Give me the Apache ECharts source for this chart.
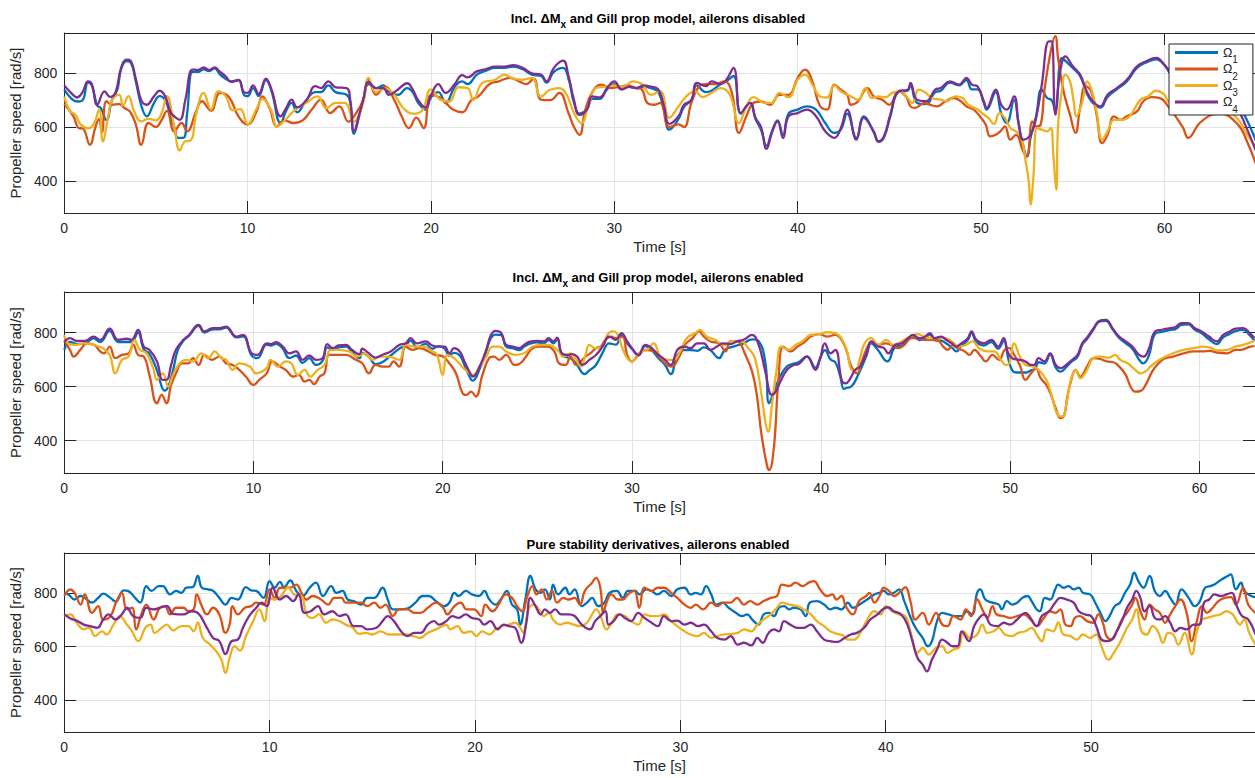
<!DOCTYPE html>
<html><head><meta charset="utf-8">
<script src="https://cdn.jsdelivr.net/npm/echarts@6/dist/echarts.min.js"></script>
<style>html,body{margin:0;padding:0;background:#fff}#c{width:1255px;height:778px}</style>
</head><body><div id="c"></div>
<script>
// ---------- data ----------
const seriesNames = ['Ω1', 'Ω2', 'Ω3', 'Ω4'];
const titleTexts = [
  'Incl. ΔM{x|x} and Gill prop model, ailerons disabled',
  'Incl. ΔM{x|x} and Gill prop model, ailerons enabled',
  'Pure stability derivatives, ailerons enabled'
];
const xTicks = [0, 10, 20, 30, 40, 50, 60];
const yTicks = [400, 600, 800];
const xMax = [64.94, 62.93, 57.98];
const yMin = 280, yMax = 950;

// Subplot 1: ailerons disabled
const p1_w1 = [[0,739],[0.4,705],[0.7,695],[1.0,700],[1.3,765],[1.5,755],[1.8,680],[2.0,670],[2.3,625],[2.6,700],[2.9,740],[3.1,815],[3.4,845],[3.6,842],[3.9,770],[4.2,680],[4.5,640],[4.9,690],[5.2,715],[5.5,700],[5.8,640],[6.0,600],[6.2,560],[6.5,560],[6.7,650],[7.0,805],[7.3,805],[7.6,815],[7.9,808],[8.2,818],[8.5,795],[8.8,780],[9.1,770],[9.5,775],[9.8,720],[10.0,715],[10.3,745],[10.6,715],[11.0,775],[11.3,735],[11.8,615],[12.1,660],[12.4,690],[12.7,655],[13.2,700],[13.7,730],[14.0,730],[14.4,755],[14.8,730],[15.4,720],[15.6,690],[15.8,575],[16.1,645],[16.3,700],[16.6,760],[17.0,745],[17.4,755],[17.7,730],[18.2,720],[18.7,745],[19.0,730],[19.3,690],[19.7,665],[20.0,710],[20.4,730],[20.8,690],[21.3,750],[21.7,770],[22.0,760],[22.5,795],[23.0,810],[23.5,820],[24.0,820],[24.5,825],[25.0,815],[25.5,795],[26.0,790],[26.3,765],[26.7,805],[27.2,820],[27.5,780],[27.8,690],[28.1,650],[28.5,665],[28.8,705],[29.2,705],[29.6,740],[30.0,760],[30.4,740],[30.8,750],[31.2,745],[31.6,750],[32.0,745],[32.4,730],[32.7,665],[33.0,590],[33.5,630],[33.8,675],[34.2,700],[34.5,755],[35.0,730],[35.3,735],[35.8,760],[36.1,770],[36.5,790],[36.9,650],[37.4,690],[37.7,630],[38.0,590],[38.3,530],[38.6,585],[38.9,625],[39.2,570],[39.5,650],[40.0,665],[40.5,677],[41.0,665],[41.5,615],[42.0,578],[42.35,590],[42.7,650],[43.2,560],[43.6,640],[44.15,580],[44.4,545],[44.7,560],[45.05,640],[45.5,730],[46.0,735],[46.15,755],[46.5,690],[47.0,685],[47.5,730],[47.8,735],[48.3,765],[48.8,755],[49.2,775],[49.5,740],[49.8,740],[50.15,690],[50.3,665],[50.8,730],[51.1,650],[51.4,615],[51.8,700],[52.05,610],[52.3,530],[52.5,490],[52.7,560],[53.0,640],[53.3,740],[53.6,708],[53.85,700],[54.05,660],[54.4,857],[54.7,840],[55.0,820],[55.4,790],[55.8,720],[56.1,690],[56.5,672],[56.9,712],[57.4,740],[57.95,770],[58.5,820],[59.0,840],[59.55,852],[60.0,830],[60.5,780],[61,760],[62,730],[63,700],[64,680],[64.4,640],[65,547]];
const p1_w2 = [[0,686],[0.5,640],[0.8,596],[1.0,595],[1.4,534],[1.7,600],[1.9,630],[2.05,580],[2.3,696],[2.6,683],[3.0,685],[3.3,670],[3.6,656],[3.9,610],[4.2,534],[4.6,615],[5.0,600],[5.3,625],[5.6,660],[6.0,584],[6.4,615],[6.7,584],[7.2,660],[7.5,696],[8.0,661],[8.5,727],[9.0,710],[9.5,640],[10.0,609],[10.5,660],[10.8,714],[11.2,670],[11.6,602],[12.0,625],[12.5,615],[13.0,625],[13.5,665],[14.0,702],[14.5,652],[15.0,677],[15.5,620],[15.9,650],[16.3,700],[16.6,776],[17.0,720],[17.5,750],[18.0,700],[18.4,640],[18.8,596],[19.2,635],[19.6,596],[20.0,720],[20.5,710],[20.8,690],[21.2,665],[21.7,655],[22.2,700],[22.6,715],[23.2,760],[23.7,770],[24.3,783],[24.8,770],[25.2,760],[25.6,780],[26.0,702],[26.5,700],[27.0,727],[27.5,652],[27.8,600],[28.1,571],[28.4,660],[28.8,730],[29.3,758],[29.8,745],[30.3,750],[30.7,755],[31.2,745],[31.5,740],[31.8,690],[32.2,683],[32.5,690],[33.0,600],[33.5,610],[33.8,600],[34.2,690],[34.6,750],[35.0,760],[35.5,760],[36.0,770],[36.4,730],[36.8,578],[37.2,640],[37.6,690],[38.0,695],[38.5,683],[39.0,720],[39.5,720],[40.0,783],[40.4,814],[40.8,770],[41.2,680],[41.6,665],[42.0,758],[42.35,739],[42.7,720],[42.9,683],[43.3,696],[43.8,745],[44.15,714],[44.6,702],[45.0,683],[45.5,733],[45.9,714],[46.15,677],[46.4,671],[46.9,689],[47.2,683],[47.6,677],[48.0,693],[48.5,708],[48.9,696],[49.2,677],[49.6,665],[50.0,634],[50.25,609],[50.5,565],[50.8,571],[51.05,584],[51.3,602],[51.6,553],[51.9,571],[52.3,509],[52.5,491],[52.8,621],[53.0,602],[53.25,609],[53.45,733],[53.8,882],[54.05,938],[54.2,857],[54.5,733],[54.85,646],[55.15,578],[55.4,671],[55.7,752],[56.0,733],[56.3,646],[56.6,540],[56.9,571],[57.25,640],[57.6,627],[57.95,640],[58.5,658],[58.85,696],[59.3,711],[59.75,708],[60.2,677],[61,600],[61.3,560],[62,620],[63,650],[64,610],[64.5,547],[65,460]];
const p1_w3 = [[0,714],[0.3,660],[0.6,646],[0.9,609],[1.3,595],[1.6,610],[1.9,665],[2.1,547],[2.4,640],[2.6,700],[3.0,720],[3.2,680],[3.5,715],[3.8,660],[4.2,621],[4.6,630],[5.0,625],[5.3,650],[5.6,715],[6.0,600],[6.3,513],[6.6,547],[6.9,550],[7.2,650],[7.6,727],[8.0,665],[8.4,733],[8.8,715],[9.2,662],[9.6,667],[10.0,611],[10.5,670],[10.8,705],[11.3,660],[11.6,602],[12.1,630],[12.6,665],[13.2,690],[13.8,714],[14.3,670],[14.8,690],[15.3,690],[15.8,620],[16.3,690],[16.6,783],[17.0,730],[17.5,745],[18.0,720],[18.5,670],[19.0,650],[19.5,660],[20.0,740],[20.5,702],[21.0,695],[21.5,748],[22.0,745],[22.3,700],[22.8,764],[23.5,776],[24.0,795],[24.5,780],[25.0,776],[25.5,783],[26.0,714],[26.5,739],[27.0,745],[27.4,720],[27.8,652],[28.2,615],[28.6,683],[29.0,745],[29.5,750],[30.0,755],[30.5,750],[31.0,770],[31.5,760],[32.0,720],[32.5,733],[33.0,634],[33.5,677],[34.0,720],[34.4,733],[34.8,711],[35.3,727],[35.8,745],[36.3,720],[36.8,615],[37.2,677],[37.6,711],[38.2,690],[38.6,690],[39.0,727],[39.5,711],[40.0,776],[40.4,795],[40.8,758],[41.2,715],[41.6,710],[42.0,755],[42.35,733],[42.9,714],[43.3,702],[43.7,745],[44.05,708],[44.4,714],[44.8,711],[45.15,727],[45.6,733],[46.0,708],[46.25,689],[46.6,739],[47.0,727],[47.3,708],[47.8,702],[48.1,696],[48.6,714],[49.0,708],[49.3,683],[49.8,665],[50.15,646],[50.4,634],[50.7,611],[51.0,652],[51.3,634],[51.6,596],[51.9,584],[52.2,559],[52.4,485],[52.6,398],[52.7,311],[52.85,410],[53.05,596],[53.3,590],[53.6,584],[53.8,596],[53.95,485],[54.1,366],[54.2,609],[54.4,733],[54.6,795],[54.85,770],[55.05,696],[55.2,640],[55.5,689],[55.8,770],[56.05,733],[56.3,658],[56.6,553],[56.9,584],[57.25,627],[57.7,627],[58.1,640],[58.7,702],[59.1,714],[59.55,735],[60.0,720],[60.3,689],[61,680],[62,690],[63,680],[64,630],[64.4,584],[65,522]];
const p1_w4 = [[0,755],[0.4,725],[0.7,710],[1.0,730],[1.3,770],[1.5,760],[1.8,683],[2.2,733],[2.5,712],[2.8,730],[3.1,820],[3.4,851],[3.6,848],[3.9,780],[4.2,700],[4.5,683],[4.9,715],[5.2,735],[5.5,715],[5.8,655],[6.0,640],[6.3,627],[6.6,700],[7.0,814],[7.3,812],[7.6,822],[7.9,812],[8.2,822],[8.5,805],[8.8,789],[9.1,768],[9.5,775],[9.8,730],[10.0,727],[10.3,755],[10.6,723],[11.0,780],[11.3,740],[11.8,640],[12.1,670],[12.4,702],[12.7,673],[13.2,700],[13.7,752],[14.0,745],[14.4,770],[14.8,748],[15.4,745],[15.6,700],[15.8,584],[16.1,650],[16.3,700],[16.6,768],[17.0,745],[17.4,745],[17.7,720],[18.2,740],[18.7,763],[19.0,740],[19.3,700],[19.7,673],[20.0,718],[20.4,760],[20.8,727],[21.3,760],[21.7,793],[22.0,785],[22.5,807],[23.0,816],[23.5,825],[24.0,825],[24.5,830],[25.0,820],[25.5,800],[26.0,795],[26.3,770],[26.7,820],[27.2,847],[27.5,790],[27.8,700],[28.1,645],[28.5,665],[28.8,714],[29.2,710],[29.6,745],[30.0,770],[30.4,740],[30.8,750],[31.2,745],[31.6,755],[32.0,750],[32.4,740],[32.7,680],[33.0,612],[33.5,640],[33.8,683],[34.2,700],[34.5,764],[35.0,752],[35.3,770],[35.8,760],[36.1,775],[36.5,820],[36.9,652],[37.4,690],[37.7,634],[38.0,600],[38.3,519],[38.6,580],[38.9,621],[39.2,559],[39.5,640],[40.0,652],[40.5,665],[41.0,640],[41.5,584],[42.0,560],[42.35,596],[42.7,665],[43.2,553],[43.6,634],[44.15,584],[44.4,547],[44.7,565],[45.05,646],[45.5,733],[46.0,739],[46.15,764],[46.5,702],[47.0,696],[47.5,739],[47.8,745],[48.3,770],[48.8,758],[49.2,783],[49.5,758],[49.8,752],[50.15,696],[50.3,671],[50.8,739],[51.1,683],[51.4,665],[51.8,714],[52.05,615],[52.3,553],[52.7,571],[53.0,634],[53.3,752],[53.7,919],[53.85,919],[54.05,646],[54.3,800],[54.6,863],[55.0,826],[55.4,795],[55.8,727],[56.1,696],[56.5,677],[56.9,720],[57.4,745],[57.95,776],[58.5,826],[59.0,845],[59.55,857],[60.0,832],[60.5,789],[61,770],[62,740],[63,700],[64,660],[64.4,609],[65,509]];

// Subplot 2: ailerons enabled
const p2_w1 = [[0,736],[0.3,765],[0.67,758],[1.1,760],[1.55,778],[1.9,765],[2.4,805],[2.85,765],[3.3,765],[3.55,765],[3.9,800],[4.2,738],[4.5,722],[4.9,660],[5.15,600],[5.3,585],[5.5,600],[5.75,660],[6.0,735],[6.3,770],[6.6,788],[7.1,825],[7.4,800],[7.85,812],[8.2,812],[8.55,818],[9.1,782],[9.45,786],[9.9,715],[10.2,705],[10.7,755],[10.9,752],[11.2,758],[11.55,740],[11.9,705],[12.25,715],[12.6,688],[12.95,705],[13.3,680],[13.65,695],[13.9,745],[14.2,735],[14.5,745],[14.9,748],[15.2,728],[15.6,705],[15.75,725],[16.1,710],[16.45,683],[16.8,690],[17.25,715],[17.7,740],[18.05,752],[18.3,770],[18.65,745],[19.1,758],[19.45,740],[19.8,750],[20.1,740],[20.35,715],[20.6,725],[20.9,715],[21.15,680],[21.5,625],[21.6,622],[21.95,665],[22.3,730],[22.55,780],[22.8,792],[23.1,790],[23.35,748],[23.7,742],[24.05,735],[24.3,748],[24.65,760],[25.0,764],[25.35,760],[25.6,772],[25.85,760],[26.05,775],[26.3,715],[26.6,708],[26.85,700],[27.1,680],[27.5,646],[27.75,660],[28.1,680],[28.45,725],[28.8,760],[29.15,755],[29.45,790],[29.75,760],[30.0,740],[30.35,715],[30.7,750],[31.05,735],[31.4,705],[31.75,680],[32.05,646],[32.4,715],[32.75,735],[33.1,735],[33.45,732],[33.8,745],[34.15,735],[34.6,705],[34.9,735],[35.2,745],[35.55,752],[35.9,760],[36.35,775],[36.7,768],[37.05,690],[37.25,538],[37.5,580],[37.85,640],[38.2,675],[38.55,685],[38.8,690],[39.25,712],[39.7,670],[39.95,705],[40.2,735],[40.5,700],[40.75,690],[41.0,640],[41.2,591],[41.3,594],[41.6,600],[42.0,650],[42.4,715],[42.65,760],[43.0,735],[43.5,693],[43.9,745],[44.25,752],[44.6,772],[44.85,785],[45.2,772],[45.5,778],[45.75,792],[46.0,772],[46.35,770],[46.6,760],[46.9,745],[47.15,730],[47.4,750],[47.75,772],[47.95,798],[48.2,765],[48.6,752],[49.0,765],[49.35,740],[49.65,770],[49.9,700],[50.1,660],[50.3,652],[50.8,652],[51.1,660],[51.3,665],[51.5,690],[51.8,685],[52.1,718],[52.4,670],[52.65,655],[52.95,672],[53.2,690],[53.55,710],[53.8,755],[54.05,776],[54.4,812],[54.7,840],[55.05,843],[55.4,812],[55.75,780],[56.1,760],[56.45,740],[56.8,700],[57.0,686],[57.3,710],[57.65,795],[58.0,802],[58.45,810],[58.7,812],[59.05,828],[59.4,830],[59.75,810],[60.1,798],[60.5,775],[60.9,757],[61.25,782],[61.6,795],[61.9,805],[62.3,810],[62.65,790],[62.9,770]];
const p2_w2 = [[0,770],[0.3,736],[0.5,711],[0.85,736],[1.2,760],[1.6,754],[1.9,730],[2.1,723],[2.4,748],[2.7,705],[3.05,717],[3.4,723],[3.65,754],[3.9,717],[4.2,711],[4.5,643],[4.9,538],[5.15,569],[5.4,538],[5.65,606],[5.95,656],[6.2,686],[6.55,686],[6.8,705],[7.1,680],[7.4,717],[7.8,699],[8.2,711],[8.55,686],[8.9,680],[9.25,662],[9.6,637],[10.0,606],[10.3,625],[10.7,649],[11.0,693],[11.4,674],[11.7,662],[12.1,637],[12.4,643],[12.7,619],[12.95,625],[13.2,609],[13.5,637],[13.75,649],[14.0,717],[14.35,717],[14.9,717],[15.4,699],[15.75,686],[16.1,649],[16.45,680],[16.8,674],[17.15,674],[17.4,693],[17.7,674],[18.05,748],[18.4,736],[18.8,742],[19.25,730],[19.6,717],[20.0,712],[20.35,686],[20.7,649],[21.05,575],[21.25,569],[21.5,581],[21.75,563],[22.1,643],[22.45,705],[22.7,711],[23.0,699],[23.35,717],[23.8,680],[24.1,686],[24.4,711],[24.75,742],[25.1,748],[25.55,748],[25.9,730],[26.15,686],[26.5,680],[26.75,711],[27.05,680],[27.3,693],[27.55,711],[27.8,723],[28.1,742],[28.35,748],[28.6,773],[28.9,785],[29.15,779],[29.5,785],[29.75,717],[30.0,693],[30.35,717],[30.7,736],[31.15,730],[31.5,705],[31.85,680],[32.1,674],[32.5,711],[32.8,754],[33.2,779],[33.55,804],[33.8,785],[34.15,767],[34.6,760],[34.95,730],[35.2,767],[35.55,767],[36.0,717],[36.35,656],[36.6,569],[36.85,421],[37.15,304],[37.25,291],[37.5,372],[37.75,631],[38.0,748],[38.4,730],[38.75,748],[39.1,764],[39.45,785],[39.9,794],[40.3,785],[40.75,791],[41.1,770],[41.35,730],[41.6,674],[41.9,649],[42.15,693],[42.5,754],[42.75,767],[43.0,754],[43.4,760],[43.7,754],[44.05,742],[44.4,754],[44.75,779],[45.1,779],[45.45,773],[45.8,773],[46.2,769],[46.45,748],[46.7,736],[46.95,754],[47.2,742],[47.6,730],[47.85,717],[48.1,736],[48.45,711],[48.7,693],[49.05,717],[49.4,699],[49.7,736],[49.95,742],[50.2,717],[50.5,680],[50.8,625],[51.1,649],[51.35,668],[51.6,631],[51.9,606],[52.15,569],[52.4,520],[52.65,483],[52.85,495],[53.0,557],[53.2,619],[53.45,662],[53.7,637],[54.05,674],[54.4,705],[54.75,702],[55.1,693],[55.45,690],[55.75,674],[56.1,643],[56.35,600],[56.6,581],[56.9,584],[57.15,606],[57.5,656],[57.75,680],[58.1,702],[58.6,711],[59.15,723],[59.7,730],[60.2,730],[60.55,732],[60.9,726],[61.45,723],[61.9,736],[62.2,736],[62.6,746],[62.9,751]];
const p2_w3 = [[0,791],[0.2,760],[0.6,754],[1.0,760],[1.55,754],[2.05,742],[2.4,717],[2.7,649],[3.05,699],[3.4,711],[3.7,773],[4.0,736],[4.35,723],[4.7,668],[4.9,625],[5.2,649],[5.5,600],[5.75,643],[6.1,686],[6.45,699],[6.8,693],[7.25,723],[7.6,705],[7.95,730],[8.3,705],[8.55,699],[8.9,662],[9.25,686],[9.8,674],[10.15,649],[10.7,668],[10.9,699],[11.3,674],[11.7,693],[12.0,686],[12.35,643],[12.7,662],[13.0,637],[13.4,662],[13.75,680],[14.1,736],[14.5,736],[15.05,730],[15.5,711],[15.85,723],[16.3,699],[16.65,711],[17.15,711],[17.7,699],[18.05,754],[18.55,748],[19.0,748],[19.45,730],[19.7,717],[20.0,643],[20.25,717],[20.6,705],[20.95,680],[21.2,662],[21.6,643],[21.95,674],[22.3,711],[22.65,748],[23.0,748],[23.35,730],[23.85,717],[24.3,723],[24.75,748],[25.2,754],[25.6,754],[26.05,736],[26.4,711],[26.75,723],[27.05,699],[27.3,674],[27.55,717],[27.75,754],[28.1,742],[28.45,748],[28.7,791],[28.95,804],[29.2,798],[29.5,742],[29.75,705],[30.0,693],[30.35,723],[30.8,736],[31.15,760],[31.5,711],[31.85,699],[32.2,699],[32.55,730],[32.9,779],[33.35,798],[33.6,810],[33.95,785],[34.4,773],[34.85,754],[35.3,767],[35.75,769],[36.15,742],[36.5,705],[36.85,569],[37.05,470],[37.2,433],[37.4,532],[37.65,662],[37.9,748],[38.3,736],[38.65,754],[39.0,767],[39.45,791],[39.9,794],[40.3,801],[40.75,798],[41.1,775],[41.35,736],[41.6,662],[41.8,658],[42.05,705],[42.3,760],[42.65,779],[43.0,754],[43.45,773],[43.8,754],[44.25,767],[44.7,785],[45.1,794],[45.45,785],[45.8,779],[46.2,779],[46.55,779],[46.9,767],[47.3,748],[47.65,754],[48.0,767],[48.35,742],[48.8,730],[49.15,730],[49.5,699],[49.75,680],[49.95,686],[50.2,760],[50.5,711],[50.8,680],[51.2,674],[51.5,662],[51.9,625],[52.2,563],[52.5,495],[52.75,489],[52.95,532],[53.2,625],[53.45,662],[53.7,631],[54.05,662],[54.4,707],[54.75,711],[55.2,707],[55.55,717],[55.8,699],[56.2,686],[56.5,668],[56.9,649],[57.15,656],[57.4,674],[57.75,693],[58.2,711],[58.6,723],[59.15,736],[59.7,742],[60.2,748],[60.55,744],[60.9,734],[61.45,736],[61.9,748],[62.3,754],[62.9,769]];
const p2_w4 = [[0,764],[0.3,779],[0.67,769],[1.1,769],[1.55,785],[1.9,773],[2.4,814],[2.85,773],[3.3,777],[3.55,773],[3.9,810],[4.2,748],[4.5,736],[4.9,693],[5.2,625],[5.4,625],[5.65,680],[5.9,736],[6.3,773],[6.6,791],[7.1,828],[7.4,804],[7.85,816],[8.2,816],[8.55,822],[9.1,785],[9.45,791],[9.9,723],[10.2,717],[10.7,760],[10.9,757],[11.2,764],[11.55,748],[11.9,723],[12.25,730],[12.6,699],[12.95,715],[13.3,699],[13.65,705],[13.9,757],[14.2,742],[14.5,752],[14.9,754],[15.2,736],[15.6,720],[15.75,740],[16.1,723],[16.45,707],[16.8,717],[17.25,730],[17.7,754],[18.05,760],[18.3,779],[18.65,760],[19.1,767],[19.45,752],[19.8,748],[20.1,748],[20.35,723],[20.6,742],[20.9,730],[21.15,693],[21.5,643],[21.6,637],[21.95,674],[22.3,736],[22.55,791],[22.8,806],[23.1,798],[23.35,754],[23.7,748],[24.05,742],[24.3,754],[24.65,767],[25.0,769],[25.35,767],[25.6,779],[25.85,767],[26.05,781],[26.3,723],[26.6,717],[26.85,720],[27.1,711],[27.4,680],[27.75,699],[28.1,717],[28.45,748],[28.8,785],[29.15,773],[29.45,798],[29.75,767],[30.0,742],[30.35,717],[30.7,754],[31.05,742],[31.4,717],[31.75,699],[32.05,680],[32.4,736],[32.75,748],[33.1,742],[33.45,760],[33.8,760],[34.15,736],[34.5,748],[34.8,760],[35.2,757],[35.55,767],[35.9,773],[36.35,791],[36.7,754],[37.05,656],[37.4,569],[37.6,581],[37.85,619],[38.2,662],[38.55,680],[38.8,683],[39.25,711],[39.7,662],[39.95,705],[40.2,760],[40.5,723],[40.75,736],[41.1,620],[41.3,612],[41.5,625],[41.8,662],[42.05,674],[42.4,723],[42.65,767],[43.0,748],[43.3,744],[43.55,723],[43.9,754],[44.25,760],[44.6,779],[44.85,791],[45.2,779],[45.5,785],[45.75,798],[46.0,779],[46.35,785],[46.6,773],[46.9,760],[47.15,748],[47.4,760],[47.75,779],[47.95,804],[48.2,773],[48.6,760],[49.0,773],[49.35,748],[49.65,779],[49.85,730],[50.1,705],[50.5,699],[50.8,693],[51.1,680],[51.25,680],[51.5,705],[51.8,693],[52.1,723],[52.4,680],[52.65,668],[52.95,680],[53.2,695],[53.55,717],[53.8,760],[54.05,781],[54.4,816],[54.7,843],[55.05,847],[55.4,816],[55.75,785],[56.1,767],[56.45,748],[56.8,717],[57.05,711],[57.3,736],[57.65,804],[58.0,810],[58.45,816],[58.7,819],[59.05,835],[59.4,835],[59.75,816],[60.1,804],[60.5,785],[60.9,767],[61.25,791],[61.6,804],[61.9,814],[62.3,816],[62.65,798],[62.9,779]];

// Subplot 3: pure stability derivatives
const p3_w1 = [[0,800],[0.2,795],[0.5,776],[0.8,789],[1.0,782],[1.35,764],[1.65,782],[1.9,798],[2.25,782],[2.5,768],[2.9,810],[3.1,808],[3.45,782],[3.7,764],[4.0,826],[4.25,808],[4.6,826],[4.8,826],[5.15,795],[5.45,808],[5.7,801],[5.95,820],[6.25,822],[6.5,864],[6.7,820],[7.0,814],[7.25,808],[7.55,782],[7.85,757],[8.15,782],[8.45,776],[8.85,822],[9.1,810],[9.35,808],[9.7,782],[10.0,845],[10.25,820],[10.5,842],[10.7,822],[11.0,847],[11.3,808],[11.6,789],[11.95,820],[12.25,839],[12.6,789],[13.0,826],[13.25,801],[13.55,808],[13.8,776],[14.1,770],[14.45,757],[14.75,782],[15.1,782],[15.5,820],[15.75,776],[16.0,739],[16.3,739],[16.7,742],[17.1,764],[17.45,789],[17.75,789],[18.1,770],[18.5,751],[18.75,764],[19.0,801],[19.2,789],[19.55,808],[19.85,795],[20.2,789],[20.45,808],[20.7,776],[21.0,757],[21.3,782],[21.55,808],[21.8,757],[22.05,739],[22.2,682],[22.45,776],[22.7,864],[22.95,814],[23.2,801],[23.4,814],[23.65,776],[23.8,832],[24.05,795],[24.4,820],[24.6,795],[24.85,814],[25.2,751],[25.45,764],[25.7,782],[26.0,751],[26.3,764],[26.55,801],[26.9,808],[27.2,782],[27.45,808],[27.8,808],[28.0,795],[28.35,814],[28.6,808],[28.9,795],[29.2,808],[29.55,789],[29.85,814],[30.2,820],[30.5,795],[30.75,801],[31.0,795],[31.25,826],[31.5,795],[31.75,757],[32.05,764],[32.35,745],[32.7,726],[33.0,714],[33.25,720],[33.5,701],[33.8,682],[34.05,720],[34.3,726],[34.55,714],[34.8,745],[35.05,751],[35.3,739],[35.5,745],[35.85,739],[36.1,714],[36.3,764],[36.65,770],[37.0,757],[37.3,739],[37.55,745],[37.85,739],[38.15,764],[38.4,745],[38.6,751],[38.85,764],[39.1,776],[39.45,795],[39.7,801],[39.9,808],[40.15,795],[40.4,801],[40.65,814],[40.9,770],[41.15,720],[41.45,670],[41.8,632],[42.05,601],[42.25,620],[42.5,695],[42.75,726],[43.05,720],[43.4,714],[43.7,714],[43.95,732],[44.2,720],[44.45,801],[44.6,814],[44.85,776],[45.2,764],[45.5,757],[45.65,739],[45.9,770],[46.15,757],[46.4,764],[46.65,782],[46.9,789],[47.1,770],[47.35,739],[47.5,732],[47.75,782],[48.0,776],[48.25,814],[48.4,832],[48.65,820],[48.9,826],[49.15,814],[49.4,820],[49.6,801],[49.95,795],[50.2,764],[50.45,726],[50.7,695],[50.9,714],[51.15,751],[51.4,764],[51.65,801],[51.9,832],[52.1,876],[52.3,845],[52.55,820],[52.85,864],[53.1,808],[53.35,789],[53.6,808],[53.85,782],[54.1,757],[54.4,814],[54.75,782],[55.05,751],[55.3,770],[55.55,820],[55.8,826],[56.0,832],[56.35,851],[56.65,864],[56.8,870],[57.05,814],[57.3,839],[57.45,808],[57.8,789],[58.0,785]];
const p3_w2 = [[0,789],[0.3,814],[0.5,801],[0.8,757],[1.0,795],[1.35,726],[1.65,751],[1.9,701],[2.25,714],[2.55,770],[2.8,801],[3.05,739],[3.3,745],[3.5,664],[3.75,720],[4.0,757],[4.35,701],[4.65,745],[4.9,751],[5.15,720],[5.45,745],[5.8,745],[6.05,732],[6.3,739],[6.45,795],[6.7,751],[6.95,720],[7.25,745],[7.55,720],[7.85,651],[8.05,682],[8.2,751],[8.45,720],[8.8,745],[9.1,751],[9.35,764],[9.7,757],[10.0,814],[10.25,782],[10.5,820],[10.7,820],[11.0,820],[11.3,832],[11.55,801],[11.8,776],[12.1,789],[12.5,776],[12.85,757],[13.15,782],[13.5,782],[13.7,764],[14.0,764],[14.45,764],[14.75,751],[15.1,764],[15.4,745],[15.65,757],[16.0,714],[16.3,739],[16.7,739],[17.05,726],[17.35,726],[17.7,745],[18.1,764],[18.45,745],[18.65,720],[19.0,751],[19.3,764],[19.6,739],[19.95,739],[20.3,714],[20.5,757],[20.85,732],[21.15,757],[21.5,795],[21.8,782],[22.05,751],[22.3,732],[22.55,789],[22.8,826],[23.0,795],[23.25,814],[23.5,776],[23.75,808],[24.0,764],[24.3,782],[24.55,776],[24.85,782],[25.1,757],[25.35,808],[25.7,839],[25.9,857],[26.1,820],[26.25,726],[26.4,764],[26.65,795],[26.95,776],[27.2,776],[27.45,795],[27.75,808],[28.0,745],[28.25,820],[28.6,808],[28.9,820],[29.2,820],[29.55,801],[29.85,782],[30.2,757],[30.5,745],[30.75,757],[31.1,739],[31.5,764],[31.8,751],[32.1,764],[32.45,764],[32.75,782],[33.1,757],[33.4,770],[33.75,757],[34.05,770],[34.4,782],[34.7,789],[34.95,832],[35.3,826],[35.6,839],[35.95,826],[36.25,839],[36.5,845],[36.8,814],[37.15,789],[37.4,795],[37.6,776],[37.85,789],[38.05,751],[38.4,720],[38.7,770],[39.05,789],[39.2,801],[39.45,764],[39.7,789],[39.9,820],[40.15,808],[40.4,789],[40.75,808],[40.95,822],[41.2,770],[41.45,701],[41.8,726],[42.1,682],[42.45,726],[42.75,682],[43.0,676],[43.3,714],[43.65,701],[43.9,739],[44.15,714],[44.45,776],[44.7,739],[44.95,707],[45.2,751],[45.4,720],[45.75,714],[46.05,707],[46.4,714],[46.7,720],[47.05,701],[47.35,676],[47.7,707],[48.0,732],[48.25,726],[48.5,739],[48.75,682],[49.0,676],[49.2,707],[49.45,714],[49.8,695],[50.1,689],[50.35,720],[50.6,682],[50.75,639],[51.0,626],[51.25,657],[51.5,701],[51.75,726],[52.0,757],[52.15,782],[52.4,732],[52.6,701],[52.85,757],[53.1,739],[53.35,726],[53.6,689],[53.85,720],[54.1,751],[54.35,776],[54.65,726],[54.9,620],[55.15,695],[55.4,751],[55.65,726],[55.85,739],[56.2,770],[56.5,782],[56.8,785],[57.05,757],[57.4,820],[57.65,757],[58.0,726]];
const p3_w3 = [[0,714],[0.3,720],[0.6,689],[0.95,664],[1.2,670],[1.5,639],[1.85,657],[2.05,645],[2.4,682],[2.7,714],[3.05,682],[3.3,657],[3.6,620],[3.95,670],[4.2,682],[4.4,651],[4.75,670],[5.0,682],[5.3,660],[5.7,676],[6.05,676],[6.3,657],[6.5,689],[6.75,632],[7.1,607],[7.4,582],[7.65,551],[7.85,501],[8.05,557],[8.3,601],[8.55,585],[8.85,639],[9.2,695],[9.5,739],[9.75,695],[10.0,782],[10.25,776],[10.55,789],[10.9,820],[11.2,795],[11.55,789],[11.8,720],[12.1,707],[12.4,720],[12.75,689],[13.05,701],[13.4,695],[13.7,682],[14.05,670],[14.35,647],[14.7,651],[15.0,645],[15.4,657],[15.8,645],[16.2,645],[16.65,645],[17.0,639],[17.3,632],[17.7,651],[18.1,664],[18.4,676],[18.6,682],[18.8,664],[19.15,676],[19.45,651],[19.8,657],[20.05,639],[20.35,657],[20.7,645],[21.0,664],[21.3,676],[21.65,682],[21.95,689],[22.2,670],[22.35,651],[22.6,739],[22.85,757],[23.1,739],[23.35,714],[23.6,726],[23.8,701],[24.15,682],[24.45,689],[24.8,682],[25.1,676],[25.45,689],[25.7,720],[25.9,739],[26.15,707],[26.4,664],[26.7,695],[26.95,720],[27.3,714],[27.6,695],[27.95,682],[28.25,720],[28.6,714],[28.9,714],[29.2,720],[29.55,695],[29.85,676],[30.2,657],[30.5,645],[30.85,639],[31.15,651],[31.5,632],[31.8,639],[32.15,645],[32.45,647],[32.8,651],[33.1,664],[33.45,657],[33.75,682],[34.05,701],[34.4,720],[34.7,745],[34.95,764],[35.3,757],[35.7,751],[36.0,739],[36.35,720],[36.65,695],[37.0,676],[37.3,657],[37.65,647],[37.95,640],[38.15,626],[38.45,626],[38.8,657],[39.1,701],[39.45,732],[39.75,720],[40.0,751],[40.3,732],[40.65,720],[40.95,714],[41.2,657],[41.55,576],[41.8,595],[42.1,570],[42.45,595],[42.75,601],[43.0,576],[43.3,589],[43.55,595],[43.8,657],[44.1,632],[44.45,645],[44.7,682],[44.95,651],[45.25,657],[45.5,670],[45.8,645],[46.15,639],[46.45,651],[46.8,657],[47.1,670],[47.35,645],[47.6,620],[47.85,664],[48.15,657],[48.4,689],[48.65,645],[49.0,639],[49.3,626],[49.6,645],[49.95,632],[50.25,645],[50.5,601],[50.85,551],[51.1,576],[51.4,614],[51.75,670],[52.0,701],[52.2,739],[52.45,657],[52.7,645],[53.0,676],[53.25,657],[53.5,614],[53.75,651],[54.0,645],[54.25,607],[54.55,651],[54.9,570],[55.15,657],[55.4,701],[55.65,707],[55.95,714],[56.3,720],[56.6,732],[56.9,720],[57.25,682],[57.45,701],[57.7,651],[58.0,607]];
const p3_w4 = [[0,720],[0.3,705],[0.6,697],[0.95,682],[1.25,676],[1.6,670],[1.9,701],[2.15,720],[2.5,701],[2.8,720],[3.05,745],[3.35,714],[3.7,707],[4.0,745],[4.35,739],[4.65,745],[5.0,751],[5.3,722],[5.8,720],[6.2,732],[6.5,726],[6.95,670],[7.25,632],[7.55,620],[7.85,572],[8.15,620],[8.45,626],[8.7,670],[9.0,714],[9.35,745],[9.6,764],[9.85,751],[10.15,820],[10.5,776],[10.8,789],[11.15,770],[11.4,795],[11.7,726],[12.0,732],[12.35,751],[12.65,720],[13.05,732],[13.4,714],[13.7,720],[14.1,676],[14.45,676],[14.75,664],[15.2,670],[15.5,695],[15.75,714],[16.05,695],[16.4,657],[16.7,639],[17.05,651],[17.35,651],[17.7,682],[18.0,695],[18.25,682],[18.6,695],[18.9,714],[19.2,707],[19.55,720],[19.85,707],[20.2,701],[20.45,682],[20.75,695],[21.1,664],[21.4,682],[21.65,676],[21.95,670],[22.25,614],[22.5,689],[22.7,782],[22.95,751],[23.2,720],[23.4,739],[23.65,726],[23.9,739],[24.2,720],[24.55,720],[24.85,714],[25.2,682],[25.6,664],[25.85,695],[26.1,714],[26.35,732],[26.5,682],[26.75,695],[27.05,720],[27.3,707],[27.6,695],[27.95,726],[28.25,707],[28.6,689],[28.9,676],[29.2,714],[29.55,695],[29.85,697],[30.2,682],[30.5,689],[30.85,676],[31.15,682],[31.5,657],[31.8,632],[32.15,626],[32.45,639],[32.8,607],[33.1,614],[33.45,604],[33.75,632],[34.0,614],[34.3,651],[34.55,664],[34.8,657],[35.05,695],[35.35,682],[35.7,670],[36.0,670],[36.35,682],[36.65,657],[37.0,626],[37.3,620],[37.65,617],[37.95,630],[38.3,645],[38.6,651],[38.95,670],[39.25,701],[39.6,720],[39.85,739],[40.1,747],[40.4,732],[40.75,720],[41.05,682],[41.3,620],[41.55,557],[41.8,532],[42.0,507],[42.25,551],[42.5,589],[42.75,626],[43.0,614],[43.25,601],[43.5,601],[43.7,657],[44.05,620],[44.3,676],[44.55,707],[44.8,720],[45.1,682],[45.45,676],[45.75,689],[46.05,682],[46.4,701],[46.8,726],[47.05,707],[47.35,676],[47.6,714],[47.95,732],[48.25,764],[48.5,782],[48.8,776],[49.15,764],[49.4,732],[49.7,720],[50.0,714],[50.25,676],[50.5,626],[50.75,620],[51.0,626],[51.25,657],[51.5,695],[51.75,745],[52.0,776],[52.2,808],[52.4,782],[52.6,732],[52.85,751],[53.1,707],[53.35,701],[53.6,714],[53.85,689],[54.1,657],[54.35,670],[54.65,664],[55.0,682],[55.25,682],[55.5,764],[55.75,776],[56.0,795],[56.3,789],[56.6,795],[56.85,801],[57.1,751],[57.35,714],[57.65,701],[58.0,645]];

const panels = [
  [p1_w1, p1_w2, p1_w3, p1_w4],
  [p2_w1, p2_w2, p2_w3, p2_w4],
  [p3_w1, p3_w2, p3_w3, p3_w4]
];

// ---------- layout / style ----------
const colors = ['#0072BD', '#D95319', '#EDB120', '#7E2F8E'];
const FONT = 'Liberation Sans, Arial, Helvetica, sans-serif';
const AX = '#262626';
const GRIDC = '#e3e3e3';
const gridPos = [{top: 33, height: 180}, {top: 292, height: 181}, {top: 553, height: 179}];
const titleTop = [7, 266, 533];

const chart = echarts.init(document.getElementById('c'), null, {renderer: 'svg'});

const grid = [], xAxis = [], yAxis = [], series = [], title = [];
gridPos.forEach((g, i) => {
  grid.push({left: 61, right: 0, top: g.top, height: g.height, containLabel: false});
  const xBase = {
    gridIndex: i, type: 'value', min: 0, max: xMax[i], interval: 10,
    axisLine: {show: true, onZero: false, lineStyle: {color: AX, width: 1}},
    axisTick: {show: true, inside: true, length: 12, lineStyle: {color: AX}, customValues: xTicks},
  };
  xAxis.push(Object.assign({}, xBase, {
    position: 'bottom',
    axisLabel: {show: true, color: AX, fontSize: 14, fontFamily: FONT, margin: 8, customValues: xTicks},
    splitLine: {show: true, lineStyle: {color: GRIDC, width: 1}},
    name: 'Time [s]', nameLocation: 'middle', nameGap: 26,
    nameTextStyle: {color: AX, fontSize: 15, fontFamily: FONT}
  }));
  xAxis.push(Object.assign({}, xBase, {
    position: 'top', axisLabel: {show: false}, splitLine: {show: false}
  }));
  const yBase = {
    gridIndex: i, type: 'value', min: yMin, max: yMax,
    axisLine: {show: true, onZero: false, lineStyle: {color: AX, width: 1}},
    axisTick: {show: true, inside: true, length: 12, lineStyle: {color: AX}, customValues: yTicks},
  };
  yAxis.push(Object.assign({}, yBase, {
    position: 'left',
    axisLabel: {show: true, color: AX, fontSize: 14, fontFamily: FONT, margin: 7, customValues: yTicks},
    splitLine: {show: true, lineStyle: {color: GRIDC, width: 1}},
    name: 'Propeller speed [rad/s]', nameLocation: 'middle', nameGap: 36,
    nameTextStyle: {color: AX, fontSize: 15, fontFamily: FONT}
  }));
  yAxis.push(Object.assign({}, yBase, {
    position: 'right', axisLabel: {show: false}, splitLine: {show: false}
  }));
  panels[i].forEach((d, k) => {
    series.push({
      type: 'line', name: seriesNames[k], xAxisIndex: 2 * i, yAxisIndex: 2 * i,
      data: d, showSymbol: false, symbol: 'none', smooth: 0.45,
      lineStyle: {width: 2.3, color: colors[k]}, itemStyle: {color: colors[k]},
      silent: true, z: 3
    });
  });
  title.push({
    text: titleTexts[i], left: 658, top: titleTop[i], textAlign: 'center', padding: 0,
    textStyle: {
      color: '#000', fontSize: 13, fontWeight: 'bold', fontFamily: FONT, lineHeight: 22,
      rich: {x: {fontSize: 10, fontWeight: 'bold', fontFamily: FONT, color: '#000', verticalAlign: 'bottom'}}
    }
  });
});

chart.setOption({
  animation: false,
  backgroundColor: '#fff',
  title, grid, xAxis, yAxis, series,
  legend: {
    orient: 'vertical', left: 1169, top: 44, padding: [2, 15, 1, 6], itemGap: -2,
    itemWidth: 43, itemHeight: 3, icon: 'rect', selectedMode: false,
    backgroundColor: '#fff', borderColor: AX, borderWidth: 1,
    data: seriesNames,
    formatter: n => '{b|Ω}{s|' + n.slice(1) + '}',
    textStyle: {
      color: AX, fontFamily: FONT,
      rich: {
        b: {fontSize: 12.5, lineHeight: 24, fontFamily: FONT, color: AX},
        s: {fontSize: 10, fontFamily: FONT, color: AX, verticalAlign: 'bottom'}
      }
    }
  }
});
</script></body></html>
